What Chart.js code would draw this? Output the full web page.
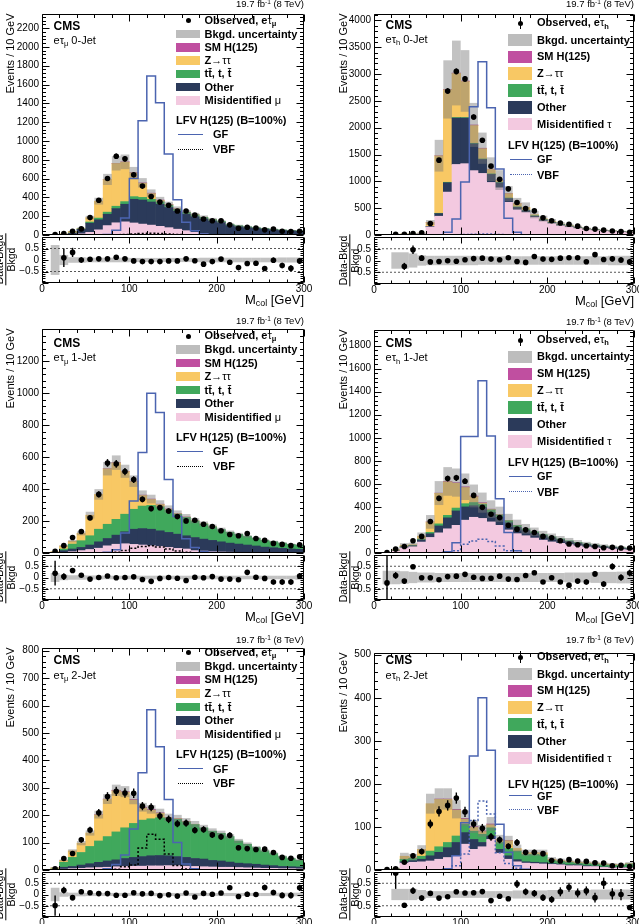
<!DOCTYPE html>
<html>
<head>
<meta charset="utf-8">
<script src="https://cdn.jsdelivr.net/npm/chart.js@4.4.1/dist/chart.umd.min.js"></script>
<style>
body { margin: 0; background: #fff; }
#page { position: relative; width: 639px; height: 924px; overflow: hidden; background: #fff;
  font-family: "Liberation Sans", Arial, Helvetica, sans-serif; color: #000; }
canvas { position: absolute; }
.t { position: absolute; white-space: nowrap; line-height: 13px; font-size: 11px; }
.b { font-weight: bold; }
.cms { font-weight: bold; font-size: 12px; }
.lumi { font-size: 9.5px; }
.xt { font-size: 13px; line-height: 16px; }
.rt { font-size: 10.5px; line-height: 11px; text-align: center; }
.sb { font-size: 0.68em; position: relative; top: 0.32em; }
.sp { font-size: 0.68em; position: relative; top: -0.45em; }
.sym { font-weight: normal; }
.sw { position: absolute; }
</style>
</head>
<body>
<div id="page"></div>
<script>
// bin centres (GeV), axis tick labels
const massBins = [5,15,25,35,45,55,65,75,85,95,105,115,125,135,145,155,165,175,185,195,205,215,225,235,245,255,265,275,285,295];
const xTicks = [0, 100, 200, 300];
const ratioTicks = [-0.5, 0, 0.5];
const yTicks1 = [0,200,400,600,800,1000,1200,1400,1600,1800,2000,2200];
const yTicks2 = [0,500,1000,1500,2000,2500,3000,3500,4000];
const yTicks3 = [0,200,400,600,800,1000,1200];
const yTicks4 = [0,200,400,600,800,1000,1200,1400,1600,1800];
const yTicks5 = [0,100,200,300,400,500,600,700,800];
const yTicks6 = [0,100,200,300,400,500];

// e tau_mu 0-jet
const misid1 = [0,0,0,3,12,28,55,100,130,140,128,116,105,92,78,62,46,28,12,5,3,2,1,1,1,0,0,0,0,0];
const other1 = [0,1,3,17,48,98,107,121,151,187,252,256,246,235,215,190,175,168,160,145,130,100,88,78,70,62,55,49,44,40];
const ttbar1 = [0,0,0,1,5,12,18,22,25,28,28,28,28,26,24,22,20,18,16,14,12,11,10,9,8,7,6,5,5,4];
const ztt1 = [0,2,9,17,5,47,180,347,454,420,252,150,61,15,5,3,2,1,1,1,0,0,0,0,0,0,0,0,0,0];
const smh1 = [0,0,0,0,0,0,0,1,2,3,4,5,5,4,3,2,1,1,0,0,0,0,0,0,0,0,0,0,0,0];
const unc1 = [0,0.65,0.22,0.12,0.12,0.1,0.1,0.1,0.1,0.1,0.09,0.09,0.09,0.09,0.09,0.09,0.09,0.09,0.1,0.1,0.1,0.1,0.1,0.1,0.1,0.1,0.1,0.11,0.11,0.11];
const data1 = [0,4,15,40,65,185,370,600,838,810,640,520,410,350,316,255,255,211,170,152,152,108,72,82,75,55,64,40,36,40];
const err1 = [0,2,4,6,8,14,19,24,29,28,25,23,20,19,18,16,16,15,13,12,12,10,8,9,9,7,8,6,6,6];
const ratio1 = [null,null,0.1,0.33,0,0.03,0.05,0.05,0.12,0.05,-0.04,-0.07,-0.07,-0.07,-0.04,-0.04,0.05,-0.03,-0.18,-0.07,0.04,-0.1,-0.33,-0.15,-0.14,-0.37,-0.01,-0.24,-0.36,-0.04];
const rerr1 = [0,0,0.4,0.2,0.12,0.07,0.05,0.04,0.04,0.04,0.04,0.05,0.05,0.05,0.06,0.06,0.06,0.07,0.07,0.08,0.08,0.09,0.1,0.1,0.1,0.11,0.12,0.12,0.13,0.13];
const gf1 = [0,0,0,0,0,0,0,5,50,180,600,1215,1690,1405,860,375,135,46,10,2,0,0,0,0,0,0,0,0,0,0];
const vbf1 = [0,0,0,0,0,0,0,1,2,5,10,15,18,15,10,5,2,1,0,0,0,0,0,0,0,0,0,0,0,0];

// e tau_h 0-jet
const misid2 = [0,0,5,10,12,25,150,350,800,1315,1330,1200,1148,980,880,610,470,420,330,260,215,175,150,125,100,88,76,65,56,48];
const other2 = [0,0,2,3,3,3,10,50,175,865,850,500,260,150,90,70,45,35,20,20,15,14,12,10,9,7,7,5,4,4];
const ttbar2 = [0,0,0,0,1,1,2,5,8,10,10,10,10,10,10,10,10,10,10,8,7,6,6,5,4,3,3,3,3,2];
const ztt2 = [0,0,3,5,4,7,70,1070,1725,820,670,330,190,80,40,80,60,50,20,17,15,10,10,7,5,3,3,2,2,2];
const smh2 = [0,0,0,0,0,0,1,3,6,10,12,12,10,7,4,2,1,0,0,0,0,0,0,0,0,0,0,0,0,0];
const unc2 = [0,0,0.35,0.35,0.3,0.22,0.2,0.2,0.2,0.2,0.2,0.2,0.18,0.18,0.18,0.18,0.18,0.18,0.18,0.18,0.18,0.18,0.18,0.18,0.18,0.18,0.18,0.2,0.2,0.2];
const data2 = [0,0,12,15,28,40,215,1395,2685,3050,2910,2200,1765,1284,1040,860,605,494,450,320,265,225,200,165,120,110,90,75,65,50];
const err2 = [0,0,4,4,5,6,15,37,52,55,54,47,42,36,32,29,25,22,21,18,16,15,14,13,11,10,9,9,8,7];
const ratio2 = [null,null,null,-0.25,0.46,0.1,-0.06,-0.04,-0.01,-0.03,0.03,0.08,0.1,0.06,0.03,0.12,-0.04,-0.08,0.17,0.06,0.05,0.1,0.12,0.12,-0.05,0.25,0.04,0.07,0.02,-0.06];
const rerr2 = [0,0,0,0.15,0.18,0.12,0.05,0.03,0.02,0.02,0.02,0.02,0.03,0.03,0.03,0.04,0.04,0.05,0.05,0.06,0.06,0.07,0.07,0.08,0.09,0.1,0.1,0.11,0.12,0.13];
const gf2 = [0,0,0,0,0,0,0,0,50,300,990,2390,3230,2370,1230,310,50,5,0,0,0,0,0,0,0,0,0,0,0,0];
const vbf2 = [0,0,0,0,0,0,0,0,1,3,8,15,20,18,10,4,1,0,0,0,0,0,0,0,0,0,0,0,0,0];

// e tau_mu 1-jet
const misid3 = [0,0,2,8,15,22,30,45,55,58,54,50,45,41,35,29,25,15,12,8,6,5,4,3,2,2,1,1,1,1];
const other3 = [0,2,13,17,20,28,40,46,57,75,95,103,104,98,94,89,83,82,75,71,64,57,52,47,42,35,32,28,24,22];
const ttbar3 = [0,0,10,31,42,58,79,89,99,110,125,141,149,150,140,125,115,104,95,85,77,68,61,54,48,42,38,33,29,26];
const ztt3 = [0,6,19,18,46,129,218,347,353,267,173,66,37,15,5,3,2,1,1,1,0,0,0,0,0,0,0,0,0,0];
const smh3 = [0,0,0,0,0,0,0,1,2,2,3,3,3,2,2,1,1,0,0,0,0,0,0,0,0,0,0,0,0,0];
const unc3 = [0,0.2,0.12,0.1,0.1,0.09,0.09,0.08,0.08,0.08,0.08,0.08,0.08,0.08,0.08,0.08,0.08,0.08,0.08,0.08,0.08,0.08,0.08,0.08,0.08,0.08,0.08,0.08,0.08,0.1];
const data3 = [0,10,46,97,135,220,367,564,558,510,460,336,278,284,263,228,201,205,180,166,139,116,108,122,91,79,60,54,46,52];
const err3 = [0,3,7,10,12,15,19,24,24,23,21,18,17,17,16,15,14,14,13,13,12,11,10,11,10,9,8,7,7,7];
const ratio3 = [null,0.19,0.04,0.31,0.1,-0.07,0,0.07,-0.01,0,0.03,-0.09,-0.17,-0.04,0,-0.03,-0.13,0.01,-0.01,0.04,-0.07,-0.07,-0.1,0.23,0.01,-0.04,-0.2,-0.2,-0.2,0.07];
const rerr3 = [0,0.55,0.15,0.1,0.08,0.06,0.05,0.04,0.04,0.05,0.05,0.05,0.06,0.06,0.06,0.06,0.07,0.07,0.07,0.08,0.08,0.09,0.09,0.1,0.1,0.1,0.11,0.12,0.12,0.13];
const gf3 = [0,0,0,0,0,0,0,5,20,125,325,630,1000,880,460,228,90,35,10,3,0,0,0,0,0,0,0,0,0,0];
const vbf3 = [0,0,0,0,0,0,0,2,5,15,30,40,45,38,25,12,5,2,0,0,0,0,0,0,0,0,0,0,0,0];

// e tau_h 1-jet
const misid4 = [0,3,15,45,55,95,135,175,210,240,285,310,300,270,240,200,168,150,130,112,96,84,73,62,53,46,40,35,30,27];
const other4 = [0,0,3,7,8,18,32,60,95,125,115,100,95,80,70,62,55,46,42,38,35,30,26,23,20,18,15,13,12,10];
const ttbar4 = [0,0,1,3,4,8,12,18,22,25,28,28,26,24,20,18,16,14,12,10,10,9,8,7,6,5,5,4,4,3];
const ztt4 = [0,0,10,12,5,25,90,265,290,215,140,50,10,3,2,1,1,0,0,0,0,0,0,0,0,0,0,0,0,0];
const smh4 = [0,0,0,0,0,0,1,2,4,6,7,7,6,4,3,2,1,0,0,0,0,0,0,0,0,0,0,0,0,0];
const unc4 = [0,0.3,0.3,0.28,0.25,0.22,0.22,0.2,0.2,0.2,0.2,0.2,0.2,0.2,0.2,0.2,0.2,0.2,0.2,0.2,0.2,0.2,0.22,0.22,0.22,0.24,0.25,0.25,0.26,0.26];
const data4 = [0,3,34,57,106,144,273,474,646,652,623,500,396,336,307,241,207,201,178,144,132,106,78,72,63,57,46,49,43,43];
const err4 = [0,2,6,8,10,12,17,22,25,26,25,22,20,18,18,16,14,14,13,12,11,10,9,8,8,8,7,7,7,7];
const ratio4 = [null,-0.24,0.09,-0.16,0.48,-0.01,-0.01,-0.1,0.04,0.06,0.14,0.01,-0.04,-0.03,0.06,-0.07,-0.09,0.09,0.21,-0.2,-0.01,-0.2,-0.34,-0.16,-0.2,0.16,-0.29,0.49,0,0.2];
const rerr4 = [0,1.2,0.15,0.1,0.09,0.07,0.05,0.04,0.04,0.04,0.04,0.04,0.05,0.05,0.06,0.06,0.07,0.07,0.08,0.08,0.09,0.09,0.1,0.1,0.11,0.12,0.12,0.14,0.14,0.15];
const gf4 = [0,0,0,0,0,0,0,0,10,90,1010,1010,1495,1015,470,178,20,3,0,0,0,0,0,0,0,0,0,0,0,0];
const vbf4 = [0,0,0,0,0,0,0,0,3,20,75,105,120,100,60,20,5,0,0,0,0,0,0,0,0,0,0,0,0,0];

// e tau_mu 2-jet
const misid5 = [0,0,3,5,6,8,9,10,12,13,14,14,15,15,16,16,14,13,12,11,10,10,9,8,7,6,6,5,5,4];
const other5 = [0,2,7,8,12,15,19,23,25,29,32,35,37,38,36,33,32,29,28,24,23,19,16,15,14,12,10,8,7,7];
const ttbar5 = [0,2,18,33,46,63,78,89,102,112,124,133,135,138,137,136,129,124,114,107,101,93,81,71,61,52,44,36,30,25];
const ztt5 = [0,4,7,24,34,49,95,136,150,130,85,44,31,16,1,2,1,1,0,0,0,0,0,0,0,0,0,0,0,0];
const smh5 = [0,0,0,0,0,0,1,1,2,2,3,3,3,2,2,1,1,0,0,0,0,0,0,0,0,0,0,0,0,0];
const unc5 = [0,0.3,0.1,0.08,0.08,0.07,0.07,0.07,0.07,0.07,0.07,0.07,0.07,0.07,0.07,0.07,0.07,0.07,0.07,0.07,0.07,0.07,0.07,0.07,0.07,0.07,0.07,0.08,0.08,0.08];
const data5 = [0,4,42,60,110,146,209,268,287,281,280,233,229,197,185,169,171,145,148,128,121,127,81,78,75,76,64,46,43,48];
const err5 = [0,2,7,8,10,12,14,16,17,17,17,15,15,14,14,13,13,12,12,11,11,11,9,9,9,9,8,7,7,7];
const ratio5 = [null,-0.49,0.19,-0.14,0.12,0.08,0.04,0.04,-0.03,-0.03,0.08,0.03,0.05,-0.05,-0.01,-0.07,0.07,-0.11,0.05,0.01,0.07,0.3,-0.09,0.01,0,0.31,0.09,-0.04,-0.04,0.3];
const rerr5 = [0,0.45,0.15,0.12,0.1,0.08,0.07,0.06,0.06,0.06,0.06,0.07,0.07,0.07,0.07,0.08,0.08,0.08,0.08,0.09,0.09,0.1,0.1,0.11,0.11,0.12,0.12,0.13,0.14,0.14];
const gf5 = [0,0,0,0,0,0,0,5,20,55,150,355,585,450,257,100,22,5,0,0,0,0,0,0,0,0,0,0,0,0];
const vbf5 = [0,0,0,0,0,0,0,1,3,12,18,80,130,112,58,16,4,0,0,0,0,0,0,0,0,0,0,0,0,0];

// e tau_h 2-jet
const misid6 = [0,0,2,16,18,19,21,25,29,33,60,48,54,71,39,25,19,16,15,14,13,12,10,10,8,8,6,5,5,5];
const other6 = [0,0,0,3,4,6,12,16,23,31,27,23,10,8,9,8,5,3,3,3,2,2,2,2,2,1,1,1,1,1];
const ttbar6 = [0,0,1,6,5,7,11,13,12,15,19,19,19,19,16,17,20,17,18,18,7,6,6,4,5,5,5,5,5,8];
const ztt6 = [0,0,1,7,3,16,110,110,100,60,12,9,6,7,6,18,6,4,4,5,3,2,2,2,2,2,2,2,1,1];
const smh6 = [0,0,0,0,0,0,0,1,1,2,2,2,2,2,1,1,0,0,0,0,0,0,0,0,0,0,0,0,0,0];
const unc6 = [0,0,0.25,0.25,0.25,0.2,0.15,0.15,0.15,0.15,0.15,0.15,0.15,0.15,0.15,0.15,0.18,0.18,0.18,0.18,0.2,0.2,0.2,0.2,0.2,0.22,0.22,0.22,0.22,0.22];
const data6 = [0,1,3,18,33,43,107,136,150,167,135,107,97,77,70,55,64,41,41,38,22,21,24,21,20,17,16,10,11,8];
const err6 = [0,1,3,4,6,7,10,12,12,13,12,10,10,9,8,7,8,6,6,6,5,5,5,5,4,4,4,3,3,3];
const ratio6 = [null,null,0.95,-0.48,0.17,-0.16,0.05,-0.16,-0.1,0.12,0.07,0.08,0.13,-0.27,-0.08,-0.19,0.47,0.12,0.05,-0.14,-0.22,0.12,0.32,0.07,0.16,-0.14,0.5,0.03,0,-0.58];
const rerr6 = [0,0,0.7,0.08,0.15,0.12,0.08,0.07,0.07,0.07,0.08,0.1,0.1,0.09,0.1,0.1,0.18,0.15,0.15,0.15,0.15,0.2,0.2,0.2,0.2,0.22,0.25,0.25,0.25,0.1];
const gf6 = [0,0,0,0,0,0,0,0,3,33,110,265,400,278,106,41,10,2,0,0,0,0,0,0,0,0,0,0,0,0];
const vbf6 = [0,0,0,0,0,0,0,0,2,10,37,115,160,130,40,15,4,0,0,0,0,0,0,0,0,0,0,0,0,0];

// colours
const colMis = '#f3c9e0', colOther = '#2b3a5a', colTT = '#40a85c', colZ = '#f8c864', colH = '#c04fa0';
const colUnc = 'rgba(120,120,120,0.45)', colGF = '#4b64b0';

// layout of the six pads (page pixels)
const panels = [
  { ch: 'μ', jet: '0-Jet', mis: misid1, oth: other1, tt: ttbar1, z: ztt1, h: smh1, unc: unc1, data: data1, err: err1, rat: ratio1, rerr: rerr1, gf: gf1, vbf: vbf1, yt: yTicks1,
    L: 42, R: 304, T: 13, B: 236, B2: 283, ymax: 2350, ym: 200, yn: 40, vbfCol: '#000', lumiY: 4, cmsY: 26, ytx: 10, rfx: 6,
    leg: { x: 176, tx: 204.5, y0: 20.7, dy: 13.3, sh: 8.5, hdr: 120.7, gf: 134.7, vbf: 149.7, lx0: 178, lx1: 203, ltx: 213 } },
  { ch: 'h', jet: '0-Jet', mis: misid2, oth: other2, tt: ttbar2, z: ztt2, h: smh2, unc: unc2, data: data2, err: err2, rat: ratio2, rerr: rerr2, gf: gf2, vbf: vbf2, yt: yTicks2,
    L: 374, R: 634, T: 13, B: 236, B2: 284, ymax: 4120, ym: 500, yn: 100, vbfCol: colGF, lumiY: 4, cmsY: 25, ytx: 342.5, rfx: 349.5,
    leg: { x: 508, tx: 537, y0: 23.3, dy: 16.8, sh: 12.5, hdr: 145.3, gf: 159.3, vbf: 175, lx0: 510, lx1: 532, ltx: 537 } },
  { ch: 'μ', jet: '1-Jet', mis: misid3, oth: other3, tt: ttbar3, z: ztt3, h: smh3, unc: unc3, data: data3, err: err3, rat: ratio3, rerr: rerr3, gf: gf3, vbf: vbf3, yt: yTicks3,
    L: 42, R: 304, T: 328, B: 554, B2: 600, ymax: 1403, ym: 200, yn: 40, vbfCol: '#000', lumiY: 321, cmsY: 343.3, ytx: 10, rfx: 6,
    leg: { x: 176, tx: 204.5, y0: 336, dy: 13.5, sh: 8.5, hdr: 437.3, gf: 451.7, vbf: 466.7, lx0: 177, lx1: 203, ltx: 213 } },
  { ch: 'h', jet: '1-Jet', mis: misid4, oth: other4, tt: ttbar4, z: ztt4, h: smh4, unc: unc4, data: data4, err: err4, rat: ratio4, rerr: rerr4, gf: gf4, vbf: vbf4, yt: yTicks4,
    L: 374, R: 634, T: 329, B: 554, B2: 600, ymax: 1935, ym: 200, yn: 40, vbfCol: colGF, lumiY: 322, cmsY: 343.3, ytx: 342.5, rfx: 349.5,
    leg: { x: 508, tx: 537, y0: 340, dy: 16.9, sh: 12.5, hdr: 462.7, gf: 476.7, vbf: 492, lx0: 509, lx1: 532, ltx: 537 } },
  { ch: 'μ', jet: '2-Jet', mis: misid5, oth: other5, tt: ttbar5, z: ztt5, h: smh5, unc: unc5, data: data5, err: err5, rat: ratio5, rerr: rerr5, gf: gf5, vbf: vbf5, yt: yTicks5,
    L: 42, R: 304, T: 647, B: 871, B2: 917, ymax: 810, ym: 100, yn: 20, vbfCol: '#000', lumiY: 639.5, cmsY: 660.7, ytx: 10, rfx: 6,
    leg: { x: 176, tx: 204.5, y0: 652.7, dy: 13.6, sh: 8.5, hdr: 754.3, gf: 769, vbf: 783.3, lx0: 178, lx1: 203, ltx: 213 } },
  { ch: 'h', jet: '2-Jet', mis: misid6, oth: other6, tt: ttbar6, z: ztt6, h: smh6, unc: unc6, data: data6, err: err6, rat: ratio6, rerr: rerr6, gf: gf6, vbf: vbf6, yt: yTicks6,
    L: 374, R: 634, T: 652, B: 871, B2: 917, ymax: 504, ym: 100, yn: 20, vbfCol: colGF, lumiY: 640, cmsY: 660.7, ytx: 342.5, rfx: 349.5,
    leg: { x: 508, tx: 537, y0: 657.3, dy: 16.8, sh: 12.5, hdr: 784, gf: 796, vbf: 810, lx0: 509, lx1: 532, ltx: 537 } }
];

const page = document.getElementById('page');
Chart.defaults.font.family = '"Liberation Sans", Arial, Helvetica, sans-serif';
Chart.defaults.font.size = 10;
Chart.defaults.color = '#000';

// frame with inward ticks on all four sides (ROOT style)
const framePlugin = {
  id: 'frame',
  afterDatasetsDraw(chart, args, o) {
    const { ctx, chartArea: a, scales: { x, y } } = chart;
    const l = Math.round(a.left) + 0.5, r = Math.round(a.right) - 0.5;
    const t = Math.round(a.top) + 0.5, b = Math.round(a.bottom) - 0.5;
    ctx.save();
    ctx.strokeStyle = '#000';
    ctx.lineWidth = 1;
    ctx.beginPath();
    ctx.rect(l, t, r - l, b - t);
    for (let v = 0; v <= 300; v += 20) {
      const px = Math.round(x.getPixelForValue(v)) + 0.5;
      const len = v % 100 === 0 ? o.xl : o.xl / 2;
      ctx.moveTo(px, b); ctx.lineTo(px, b - len);
      ctx.moveTo(px, t); ctx.lineTo(px, t + len);
    }
    const n = Math.floor((y.max - y.min) / o.yn + 1e-6);
    for (let i = 0; i <= n; i++) {
      const v = y.min + i * o.yn;
      const py = Math.round(y.getPixelForValue(v)) + 0.5;
      const q = v / o.ym;
      const len = Math.abs(q - Math.round(q)) < 1e-6 ? o.yl : o.yl / 2;
      ctx.moveTo(l, py); ctx.lineTo(l + len, py);
      ctx.moveTo(r, py); ctx.lineTo(r - len, py);
    }
    ctx.stroke();
    ctx.restore();
  }
};

function mkCanvas(x, y, w, h) {
  const c = document.createElement('canvas');
  c.width = w; c.height = h;
  c.style.left = x + 'px'; c.style.top = y + 'px';
  c.style.width = w + 'px'; c.style.height = h + 'px';
  page.appendChild(c);
  return c;
}

// histogram outline from per-bin values
function stepLine(arr, col, dash, order) {
  let f = arr.findIndex(v => v > 0), g = -1;
  arr.forEach((v, i) => { if (v > 0) g = i; });
  const pts = [];
  if (f >= 0) {
    pts.push({ x: massBins[f] - 5, y: 0 });
    for (let i = f; i <= g; i++) pts.push({ x: massBins[i] - 5, y: arr[i] });
    pts.push({ x: massBins[g] + 5, y: arr[g] });
    pts.push({ x: massBins[g] + 5, y: 0 });
  }
  return { type: 'line', data: pts, stepped: true, borderColor: col, borderWidth: 1.5, borderDash: dash,
    pointRadius: 0, fill: false, order };
}

function pointSets(vals, errs) {
  const pts = [], bars = [];
  massBins.forEach((m, i) => {
    const v = vals[i];
    if (v === null || v === undefined) return;
    pts.push({ x: m, y: v });
    if (errs[i] > 0) bars.push({ x: m, y: [v - errs[i], v + errs[i]] });
  });
  return [
    { type: 'line', data: pts, showLine: false, pointRadius: 2.8, pointBackgroundColor: '#000', pointBorderWidth: 0, order: 1 },
    { type: 'bar', data: bars, backgroundColor: '#000', barThickness: 1.4, inflateAmount: 0, order: 2 }
  ];
}

function baseOptions(yScale, xScale, pad, frameOpts) {
  return {
    responsive: false, animation: false, events: [], devicePixelRatio: 1,
    layout: { padding: pad },
    datasets: { bar: { grouped: false, barPercentage: 1, categoryPercentage: 1, borderWidth: 0 } },
    plugins: { legend: { display: false }, tooltip: { enabled: false }, frame: frameOpts },
    scales: { x: xScale, y: yScale }
  };
}

function mainChart(p) {
  const cv = mkCanvas(p.L - 40, p.T - 8, p.R - p.L + 52, p.B - p.T + 16);
  const ds = [];
  const tot = massBins.map(() => 0);
  [[p.mis, colMis], [p.oth, colOther], [p.tt, colTT], [p.z, colZ], [p.h, colH]].forEach(([arr, col], k) => {
    const pts = [];
    massBins.forEach((m, i) => {
      if (arr[i] > 0) pts.push({ x: m, y: [tot[i], tot[i] + arr[i]] });
      tot[i] += arr[i];
    });
    ds.push({ type: 'bar', data: pts, backgroundColor: col, order: 20 + k });
  });
  const band = [];
  massBins.forEach((m, i) => {
    if (tot[i] > 0 && p.unc[i] > 0) band.push({ x: m, y: [tot[i] * (1 - p.unc[i]), tot[i] * (1 + p.unc[i])] });
  });
  ds.push({ type: 'bar', data: band, backgroundColor: colUnc, inflateAmount: 0, order: 10 });
  ds.push(stepLine(p.gf, colGF, [], 5));
  ds.push(stepLine(p.vbf, p.vbfCol, [2, 2], 6));
  ds.push(...pointSets(p.data.map(v => (v > 0 ? v : null)), p.err));

  new Chart(cv, {
    type: 'bar',
    data: { datasets: ds },
    options: baseOptions(
      { type: 'linear', min: 0, max: p.ymax,
        afterBuildTicks: s => { s.ticks = p.yt.map(v => ({ value: v })); },
        ticks: { padding: 3, color: '#000', autoSkip: false, callback: v => String(v) },
        grid: { display: false, drawTicks: false }, border: { display: false },
        afterFit: s => { s.width = 40; } },
      { type: 'linear', min: 0, max: 300, offset: false, display: false },
      { top: 8, right: 12, bottom: 8, left: 0 },
      { xl: 7, yl: 7, ym: p.ym, yn: p.yn }),
    plugins: [framePlugin]
  });
}

function ratioChart(p) {
  const cv = mkCanvas(p.L - 40, p.B - 8, p.R - p.L + 52, p.B2 - p.B + 32);
  const ds = [];
  const band = [];
  massBins.forEach((m, i) => { if (p.unc[i] > 0) band.push({ x: m, y: [-p.unc[i], p.unc[i]] }); });
  ds.push({ type: 'bar', data: band, backgroundColor: colUnc, inflateAmount: 0, order: 10 });
  [0.5, -0.5].forEach(v => ds.push({ type: 'line', data: [{ x: 0, y: v }, { x: 300, y: v }],
    borderColor: '#555', borderWidth: 1, borderDash: [2, 2], pointRadius: 0, order: 8 }));
  ds.push(...pointSets(p.rat, p.rerr));

  new Chart(cv, {
    type: 'bar',
    data: { datasets: ds },
    options: baseOptions(
      { type: 'linear', min: -1, max: 1,
        afterBuildTicks: s => { s.ticks = ratioTicks.map(v => ({ value: v })); },
        ticks: { padding: 3, color: '#000', autoSkip: false, callback: v => (v === 0 ? '0' : (v < 0 ? '\u2212' + Math.abs(v) : String(v))) },
        grid: { display: false, drawTicks: false }, border: { display: false },
        afterFit: s => { s.width = 40; } },
      { type: 'linear', min: 0, max: 300, offset: false,
        afterBuildTicks: s => { s.ticks = xTicks.map(v => ({ value: v })); },
        ticks: { padding: 0, maxRotation: 0, autoSkip: false, color: '#000', callback: v => String(v) },
        grid: { display: false, drawTicks: false }, border: { display: false },
        afterFit: s => { s.height = 24; } },
      { top: 8, right: 12, bottom: 0, left: 0 },
      { xl: 6, yl: 6, ym: 0.5, yn: 0.1 }),
    plugins: [framePlugin]
  });
}

// html text helpers
function txt(html, x, cy, cls, align) {
  const d = document.createElement('div');
  d.className = 't ' + (cls || '');
  d.innerHTML = html;
  page.appendChild(d);
  d.style.top = (cy - d.offsetHeight / 2) + 'px';
  d.style.left = (align === 'right' ? x - d.offsetWidth : x) + 'px';
  return d;
}
function rotated(html, cx, cy, cls, anchorTop) {
  const d = document.createElement('div');
  d.className = 't ' + (cls || '');
  d.innerHTML = html;
  page.appendChild(d);
  const w = d.offsetWidth, h = d.offsetHeight;
  const yc = anchorTop === undefined ? cy : anchorTop + w / 2;
  d.style.left = (cx - w / 2) + 'px';
  d.style.top = (yc - h / 2) + 'px';
  d.style.transform = 'rotate(-90deg)';
}
function box(x, y, w, h, css) {
  const d = document.createElement('div');
  d.className = 'sw';
  d.style.cssText += `left:${x}px;top:${y}px;width:${w}px;height:${h}px;` + css;
  page.appendChild(d);
}

function legend(p) {
  const g = p.leg, ch = p.ch;
  const rows = [
    [null, `Observed, e<span class="sym">τ</span><span class="sb">${ch}</span>`],
    ['#bdbdbd', 'Bkgd. uncertainty'],
    [colH, 'SM H(125)'],
    [colZ, 'Z→<span class="sym">ττ</span>'],
    [colTT, 'tt̄, t, t̄'],
    [colOther, 'Other'],
    [colMis, `Misidentified <span class="sym">${ch === 'μ' ? 'μ' : 'τ'}</span>`]
  ];
  rows.forEach(([col, label], i) => {
    const cy = g.y0 + i * g.dy;
    if (col) box(g.x, cy - g.sh / 2, 24, g.sh, `background:${col};`);
    else {
      box(g.x + 9.5, cy - 2.5, 5, 5, 'background:#000;border-radius:50%;');
      if (ch === 'h') box(g.x + 11.5, cy - 6, 1, 12, 'background:#000;');
    }
    txt(label, g.tx, cy, 'b');
  });
  txt('LFV H(125) (B=100%)', g.x, g.hdr, 'b');
  box(g.lx0, g.gf - 0.75, g.lx1 - g.lx0, 0, `border-top:1.5px solid ${colGF};`);
  txt('GF', g.ltx, g.gf, 'b');
  box(g.lx0, g.vbf - 0.75, g.lx1 - g.lx0, 0, `border-top:1.5px dotted ${p.vbfCol};`);
  txt('VBF', g.ltx, g.vbf, 'b');
}

panels.forEach(p => {
  mainChart(p);
  ratioChart(p);
  txt('19.7 fb<span class="sp">-1</span> (8 TeV)', p.R, p.lumiY, 'lumi', 'right');
  txt('CMS', p.L + 11.5, p.cmsY, 'cms');
  txt(`e<span class="sym">τ</span><span class="sb">${p.ch}</span> ${p.jet}`, p.L + 11.5, p.cmsY + 15);
  rotated('Events / 10 GeV', p.ytx, 0, '', p.T);
  rotated('<div style="border-bottom:1px solid #000;padding:0 1px">Data-Bkgd</div><div>Bkgd</div>',
    p.rfx, (p.B + p.B2) / 2, 'rt');
  txt('M<span class="sb">col</span> [GeV]', p.R, p.B2 + 17, 'xt', 'right');
  legend(p);
});
</script>
</body>
</html>
